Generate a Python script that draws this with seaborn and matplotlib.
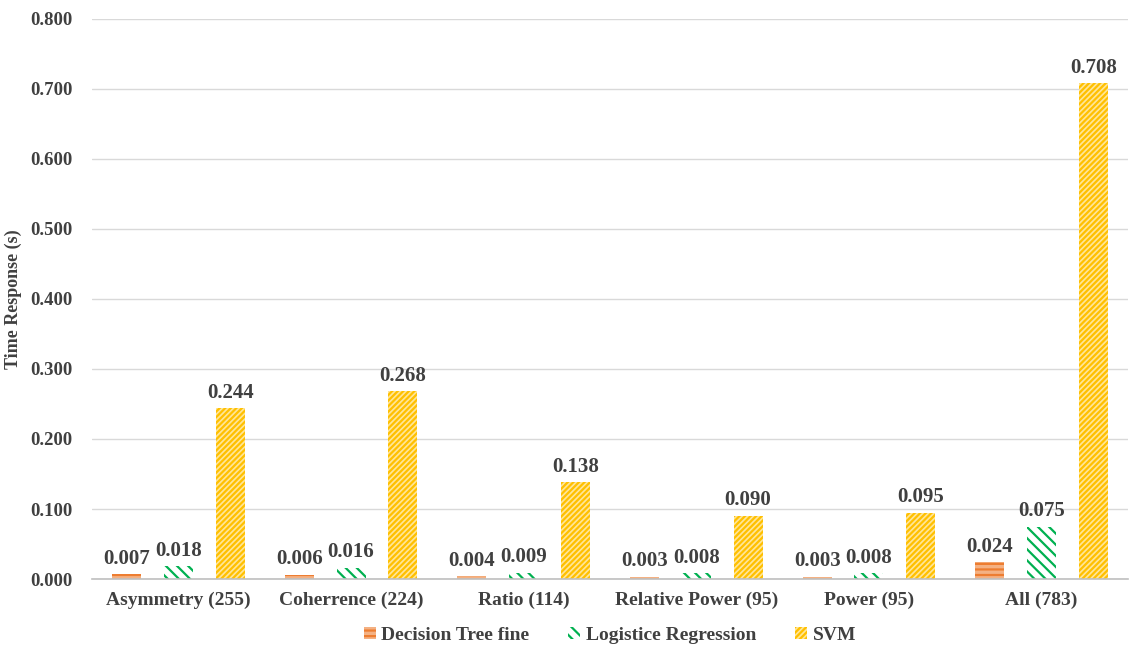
import numpy as np
import pandas as pd
import matplotlib
matplotlib.use("Agg")
import matplotlib.pyplot as plt
import seaborn as sns

# --- data ---
categories = ['Asymmetry (255)', 'Coherrence (224)', 'Ratio (114)',
              'Relative Power (95)', 'Power (95)', 'All (783)']
models = ['Decision Tree fine', 'Logistice Regression', 'SVM']
dt_times = [0.007, 0.006, 0.004, 0.003, 0.003, 0.024]
lr_times = [0.018, 0.016, 0.009, 0.008, 0.008, 0.075]
svm_times = [0.244, 0.268, 0.138, 0.090, 0.095, 0.708]

df = pd.DataFrame({
    'feature': categories * 3,
    'model': [models[0]] * 6 + [models[1]] * 6 + [models[2]] * 6,
    'time': dt_times + lr_times + svm_times,
})

sns.set_style('white')
plt.rcParams['font.family'] = ['Liberation Serif', 'DejaVu Serif']
plt.rcParams['hatch.linewidth'] = 1.6
text_col = '#404040'

fig, ax = plt.subplots(figsize=(11.37, 6.47), dpi=100)
fig.subplots_adjust(left=0.081, right=0.992, top=0.971, bottom=0.105)

sns.barplot(data=df, x='feature', y='time', hue='model', order=categories,
            hue_order=models, width=0.9, gap=0.44, ax=ax, legend=True)

# hatch fills per model
styles = {
    models[0]: dict(face='#F4B183', edge='#ED7D31', hatch='---'),
    models[1]: dict(face='white', edge='#00B050', hatch='\\\\\\'),
    models[2]: dict(face='#FFE699', edge='#FFC000', hatch='//////'),
}
for cont, m in zip(ax.containers, models):
    st = styles[m]
    for p in cont:
        p.set_facecolor(st['face'])
        p.set_edgecolor(st['edge'])
        p.set_hatch(st['hatch'])
        p.set_linewidth(0)
    ax.bar_label(cont, fmt='%.3f', padding=4, fontsize=15, fontweight='bold',
                 color=text_col)

ax.set_ylim(0, 0.8)
ax.set_xlim(-0.5, 5.5)
ax.set_yticks(np.arange(0, 0.81, 0.1))
ax.set_yticklabels(['%.3f' % v for v in np.arange(0, 0.81, 0.1)])
ax.yaxis.grid(True, color='#D9D9D9', linewidth=1)
ax.set_axisbelow(True)
for s in ['top', 'right', 'left']:
    ax.spines[s].set_visible(False)
ax.spines['bottom'].set_color('#BFBFBF')
ax.spines['bottom'].set_linewidth(1.2)

# category separator ticks
ax.set_xticks(np.arange(-0.5, 6, 1), minor=True)
ax.tick_params(axis='x', which='minor', length=6, color='#BFBFBF', width=1.2)
ax.tick_params(axis='x', which='major', length=0, pad=9)
ax.tick_params(axis='y', length=0, pad=14)
for lab in ax.get_xticklabels():
    lab.set_fontsize(14)
    lab.set_fontweight('bold')
    lab.set_color(text_col)
for lab in ax.get_yticklabels():
    lab.set_fontsize(13.5)
    lab.set_fontweight('bold')
    lab.set_color(text_col)

ax.set_xlabel('')
ax.set_ylabel('Time Response (s)', fontsize=13, fontweight='bold', color=text_col,
              labelpad=6)

handles, labels = ax.get_legend_handles_labels()
for h, m in zip(handles, models):
    st = styles[m]
    h.set_facecolor(st['face'])
    h.set_edgecolor(st['edge'])
    h.set_hatch(st['hatch'])
    h.set_linewidth(0)
ax.legend(handles, labels, loc='center', bbox_to_anchor=(0.5, -0.1),
          ncol=3, frameon=False, handlelength=0.6, handleheight=0.6,
          handletextpad=0.3, columnspacing=2.0,
          prop={'size': 14, 'weight': 'bold'}, labelcolor=text_col)

fig.savefig('out.png', dpi=100)
